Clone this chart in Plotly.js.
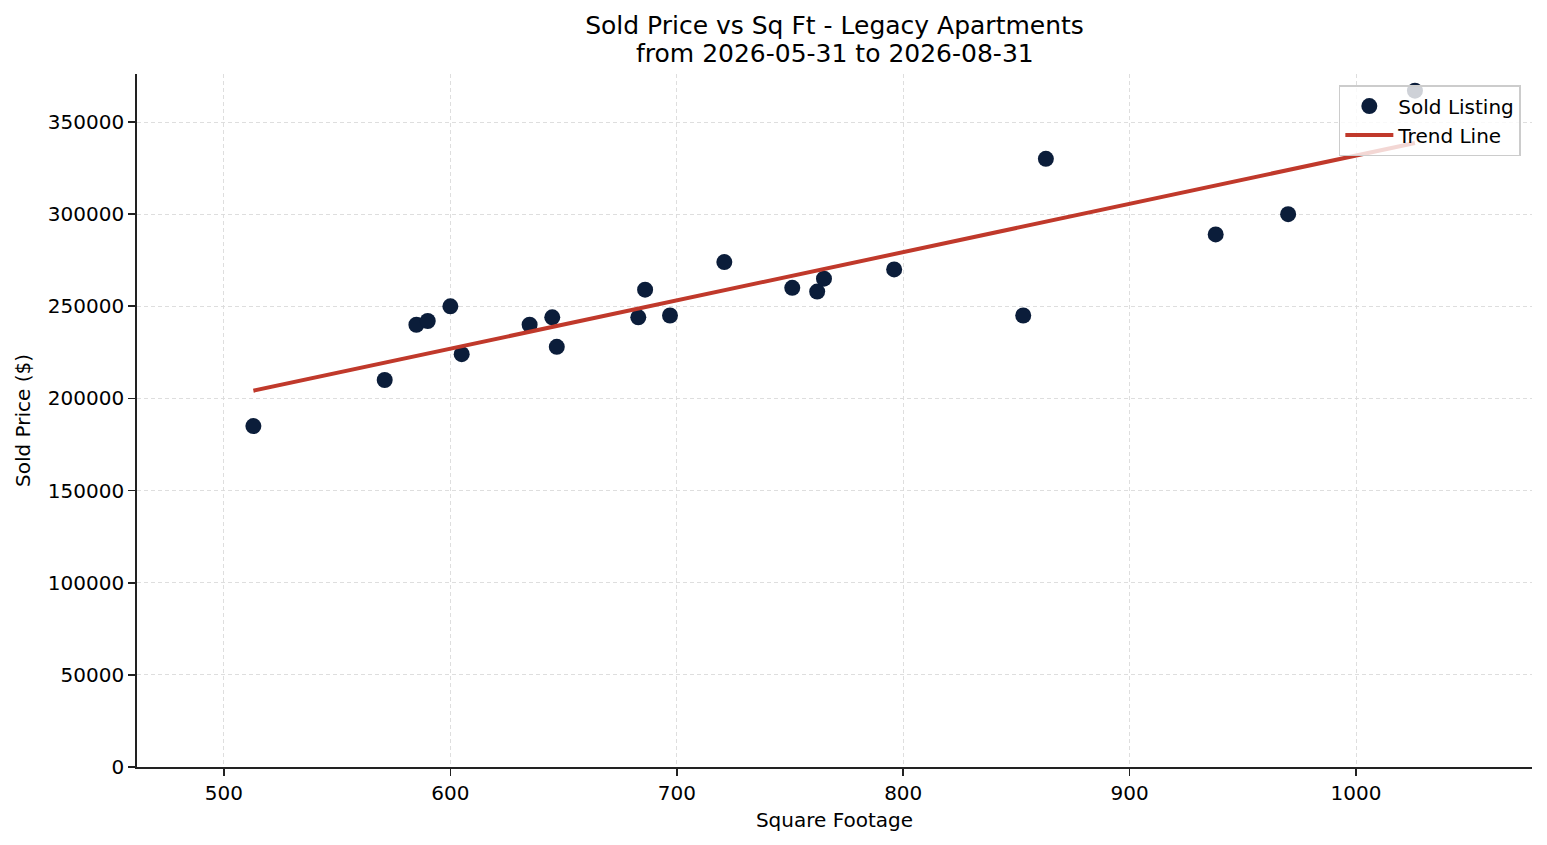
<!DOCTYPE html>
<html>
<head>
<meta charset="utf-8">
<script src="https://cdn.plot.ly/plotly-3.0.1.min.js"></script>
<style>html,body{margin:0;padding:0;background:#fff;}#chart{width:1547px;height:845px;}</style>
</head>
<body>
<div id="chart"></div>
<script>
// Sold listings: square footage and sold price
const sqft = [513, 571, 585, 590, 600, 605, 635, 645, 647, 683, 686, 697, 721, 751, 762, 765, 796, 853, 863, 938, 970, 1026];
const soldPrice = [185000, 210000, 240000, 242000, 250000, 224000, 240000, 244000, 228000, 244000, 259000, 245000, 274000, 260000, 258000, 265000, 270000, 245000, 330000, 289000, 300000, 367000];
// Trend line endpoints
const trendX = [513, 1026];
const trendY = [204200, 338600];
// Axis ticks
const xTicks = [500, 600, 700, 800, 900, 1000];
const yTicks = [0, 50000, 100000, 150000, 200000, 250000, 300000, 350000];
// Titles
const titleLine1 = 'Sold Price vs Sq Ft - Legacy Apartments';
const titleLine2 = 'from 2026-05-31 to 2026-08-31';

const FONT = "DejaVu Sans, sans-serif";

const traces = [
  {
    x: sqft, y: soldPrice, type: 'scatter', mode: 'markers', name: 'Sold Listing',
    marker: {color: '#0b1d3a', size: 16, line: {width: 0}}
  },
  {
    x: trendX, y: trendY, type: 'scatter', mode: 'lines', name: 'Trend Line',
    line: {color: '#c0392b', width: 4}
  }
];

const axisCommon = {
  showgrid: true, gridcolor: '#dadada', gridwidth: 0.9, griddash: '4px,3px',
  showline: true, linecolor: '#222222', linewidth: 1.8,
  ticks: 'outside', ticklen: 7, tickwidth: 1.6, tickcolor: '#222222',
  tickfont: {family: FONT, size: 20, color: '#000'},
  zeroline: false, mirror: false
};

const layout = {
  width: 1547, height: 845,
  margin: {l: 137, r: 15, t: 74, b: 78},
  paper_bgcolor: '#fff', plot_bgcolor: '#fff',
  font: {family: FONT, color: '#000'},
  title: {
    text: titleLine1,
    font: {family: FONT, size: 25, color: '#000'},
    x: 0.5, xref: 'paper', xanchor: 'center',
    y: 1 - 25/845, yref: 'container', yanchor: 'middle'
  },
  annotations: [{
    text: titleLine2, showarrow: false,
    font: {family: FONT, size: 25, color: '#000'},
    xref: 'paper', x: 0.5, xanchor: 'center',
    yref: 'paper', y: (767 - 54) / 693, yanchor: 'middle'
  }],
  xaxis: Object.assign({}, axisCommon, {
    range: [461.6, 1077.7], tickmode: 'array', tickvals: xTicks, ticktext: xTicks.map(String),
    title: {text: 'Square Footage', font: {family: FONT, size: 20, color: '#000'}, standoff: 9}
  }),
  yaxis: Object.assign({}, axisCommon, {
    range: [0, 376050], tickmode: 'array', tickvals: yTicks, ticktext: yTicks.map(String),
    title: {text: 'Sold Price ($)', font: {family: FONT, size: 20, color: '#000'}, standoff: 12}
  }),
  showlegend: true,
  legend: {
    x: 0.992, y: 0.984, xanchor: 'right', yanchor: 'top',
    bgcolor: 'rgba(255,255,255,0.8)', bordercolor: '#cccccc', borderwidth: 1.5,
    font: {family: FONT, size: 20, color: '#000'},
    itemwidth: 48, tracegroupgap: 0
  }
};

Plotly.newPlot('chart', traces, layout, {displayModeBar: false, staticPlot: true});
</script>
</body>
</html>
